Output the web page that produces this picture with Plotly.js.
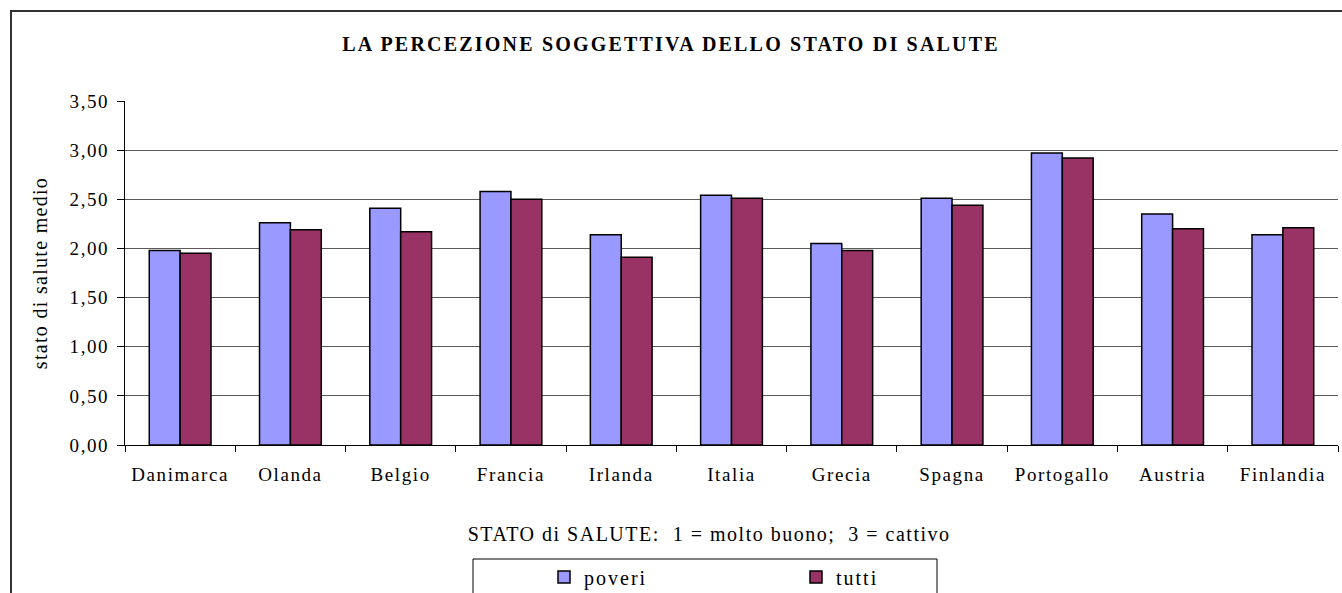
<!DOCTYPE html>
<html>
<head>
<meta charset="utf-8">
<script src="https://cdn.plot.ly/plotly-3.0.1.min.js"></script>
<style>
  html, body { margin: 0; padding: 0; background: #fff; overflow: hidden; }
  #chart { width: 1342px; height: 593px; }
  #chart .xtick text, #chart .ytick text { letter-spacing: 1.6px; }
  #chart .gtitle { letter-spacing: 2.2px; }
  #chart .annotation-text { letter-spacing: 1.5px; }
  #chart .ytitle { letter-spacing: 1.3px; }
  #chart .legendtext { letter-spacing: 2px; }
</style>
</head>
<body>
<div id="chart"></div>
<script>
const categories = ["Danimarca", "Olanda", "Belgio", "Francia", "Irlanda", "Italia", "Grecia", "Spagna", "Portogallo", "Austria", "Finlandia"];
const poveri = [1.98, 2.26, 2.41, 2.58, 2.14, 2.54, 2.05, 2.51, 2.97, 2.35, 2.14];
const tutti  = [1.95, 2.19, 2.17, 2.50, 1.91, 2.51, 1.98, 2.44, 2.92, 2.20, 2.21];
const seriesNames = ["poveri", "tutti"];
const chartTitle = "LA PERCEZIONE SOGGETTIVA DELLO STATO DI SALUTE";
const xTitle = "STATO di SALUTE:  1 = molto buono;  3 = cattivo";
const yTitle = "stato di salute medio";

const FONT = "Liberation Serif, Times New Roman, serif";

const traces = [
  { type: "bar", name: seriesNames[0], x: categories, y: poveri,
    marker: { color: "#9999FF", line: { color: "#000000", width: 1.5 } } },
  { type: "bar", name: seriesNames[1], x: categories, y: tutti,
    marker: { color: "#993366", line: { color: "#000000", width: 1.5 } } }
];

// plot area in pixels: x 125..1338, y 101..445
const PW = 1213, PH = 344;
const px = v => (v - 125) / PW;
const py = v => (445 - v) / PH;

const layout = {
  width: 1342, height: 593,
  margin: { l: 125, r: 4, t: 101, b: 148, pad: 0, autoexpand: false },
  paper_bgcolor: "#ffffff", plot_bgcolor: "#ffffff",
  font: { family: FONT, color: "#000000", size: 19 },
  separators: ", ",
  barmode: "group", bargap: 0.44, bargroupgap: 0,
  hovermode: false,
  title: { text: "<b>" + chartTitle + "</b>", font: { family: FONT, size: 20, color: "#000" },
           x: 0.5, xref: "container", xanchor: "center", y: 1 - 44/593, yref: "container", yanchor: "middle" },
  xaxis: {
    type: "category", tickson: "boundaries", ticks: "outside", ticklen: 6, tickcolor: "#000",
    showline: true, linecolor: "#000", linewidth: 1, showgrid: false,
    tickfont: { family: FONT, size: 19 }, ticklabelstandoff: 12
  },
  yaxis: {
    range: [0, 3.5], dtick: 0.5, tickformat: ".2f", ticks: "outside", ticklen: 7, tickcolor: "#000",
    showline: true, linecolor: "#000", linewidth: 1,
    showgrid: true, gridcolor: "#5a5a5a", gridwidth: 1, zeroline: false,
    tickfont: { family: FONT, size: 19 }, ticklabelstandoff: 4,
    title: { text: yTitle, font: { family: FONT, size: 20, color: "#000" }, standoff: 22 }
  },
  annotations: [
    { text: xTitle, xref: "paper", yref: "paper", x: px(709), y: py(534),
      xanchor: "center", yanchor: "middle", showarrow: false,
      font: { family: FONT, size: 20, color: "#000" } }
  ],
  showlegend: true,
  legend: {
    orientation: "h", x: px(544), xanchor: "left", y: py(577), yanchor: "middle",
    font: { family: FONT, size: 20, color: "#000" }, entrywidth: 207, entrywidthmode: "pixels",
    bgcolor: "rgba(0,0,0,0)", borderwidth: 0, traceorder: "normal"
  },
  shapes: [
    { type: "rect", xref: "paper", yref: "paper",
      x0: px(11), x1: px(1350), y0: py(620), y1: py(11),
      line: { color: "#333333", width: 2 }, fillcolor: "rgba(0,0,0,0)", layer: "below" },
    { type: "rect", xref: "paper", yref: "paper",
      x0: px(473), x1: px(937), y0: py(620), y1: py(559),
      line: { color: "#000000", width: 1 }, fillcolor: "rgba(0,0,0,0)", layer: "below" }
  ]
};

Plotly.newPlot("chart", traces, layout, { displayModeBar: false, staticPlot: true });
</script>
</body>
</html>
